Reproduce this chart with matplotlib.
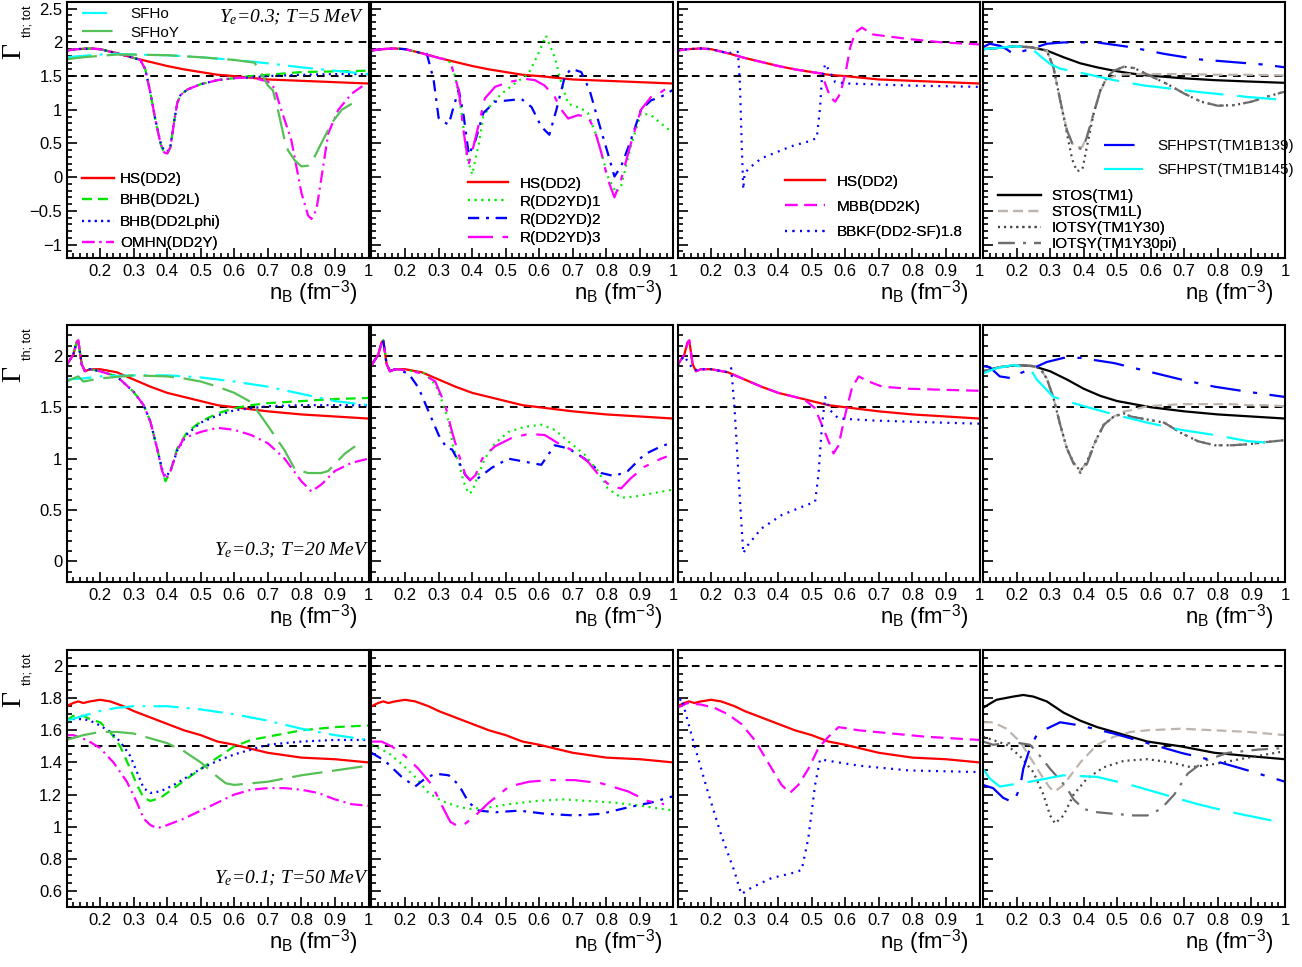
import matplotlib.pyplot as plt
from matplotlib.ticker import MultipleLocator, FuncFormatter

plt.rcParams['font.family'] = ['Liberation Sans', 'DejaVu Sans']
plt.rcParams['mathtext.fontset'] = 'custom'
plt.rcParams['mathtext.rm'] = 'Liberation Sans'
plt.rcParams['mathtext.it'] = 'Liberation Serif:italic'
plt.rcParams['lines.scale_dashes'] = False

# ---------------- Ye = 0.3, T = 5 MeV ----------------
hs5_x = [0.10, 0.13, 0.17, 0.20, 0.25, 0.30, 0.35, 0.40, 0.45, 0.50, 0.55, 0.60, 0.70, 0.80, 0.90, 1.00]
hs5_y = [1.88, 1.90, 1.91, 1.90, 1.84, 1.77, 1.71, 1.65, 1.60, 1.56, 1.52, 1.50, 1.45, 1.43, 1.41, 1.39]

bhb5_x = [0.10, 0.13, 0.17, 0.20, 0.25, 0.30, 0.32, 0.335, 0.35, 0.365, 0.38, 0.39, 0.40, 0.41, 0.42, 0.43,
          0.44, 0.46, 0.50, 0.55, 0.60, 0.65, 0.70, 0.80, 0.90, 1.00]
bhb5_y = [1.88, 1.90, 1.91, 1.90, 1.84, 1.77, 1.74, 1.60, 1.25, 0.85, 0.50, 0.37, 0.34, 0.45, 0.80, 1.10,
          1.22, 1.30, 1.38, 1.44, 1.47, 1.50, 1.52, 1.56, 1.57, 1.58]
phi5_y = [1.88, 1.90, 1.91, 1.90, 1.84, 1.77, 1.74, 1.60, 1.25, 0.85, 0.52, 0.40, 0.38, 0.47, 0.80, 1.10,
          1.22, 1.30, 1.38, 1.44, 1.47, 1.48, 1.50, 1.52, 1.53, 1.53]
omhn5_x = [0.10, 0.13, 0.17, 0.20, 0.25, 0.30, 0.32, 0.335, 0.35, 0.365, 0.38, 0.39, 0.40, 0.41, 0.42, 0.43,
           0.44, 0.46, 0.50, 0.55, 0.60, 0.65, 0.70, 0.72, 0.74, 0.77, 0.80, 0.82, 0.83, 0.845, 0.86, 0.88,
           0.91, 0.95, 0.99]
omhn5_y = [1.88, 1.90, 1.91, 1.90, 1.84, 1.77, 1.74, 1.60, 1.25, 0.85, 0.50, 0.37, 0.35, 0.45, 0.80, 1.10,
           1.22, 1.30, 1.38, 1.44, 1.47, 1.48, 1.42, 1.32, 1.00, 0.55, -0.23, -0.57, -0.62, -0.48, 0.00, 0.65,
           1.00, 1.24, 1.38]
sfho5_x = [0.10, 0.15, 0.20, 0.25, 0.30, 0.40, 0.50, 0.60, 0.70, 0.80, 0.90, 1.00]
sfho5_y = [1.78, 1.80, 1.82, 1.83, 1.82, 1.81, 1.78, 1.74, 1.69, 1.63, 1.58, 1.53]
sfhoy5_x = [0.10, 0.15, 0.20, 0.25, 0.30, 0.40, 0.50, 0.60, 0.66, 0.68, 0.70, 0.715, 0.73, 0.75, 0.76, 0.78,
            0.80, 0.82, 0.84, 0.855, 0.89, 0.92, 0.95]
sfhoy5_y = [1.75, 1.78, 1.80, 1.82, 1.82, 1.81, 1.78, 1.74, 1.70, 1.55, 1.36, 1.29, 1.00, 0.55, 0.40, 0.25,
            0.16, 0.17, 0.31, 0.46, 0.80, 1.00, 1.09]

r1_5_x = [0.10, 0.13, 0.17, 0.20, 0.25, 0.30, 0.33, 0.35, 0.37, 0.384, 0.40, 0.42, 0.433, 0.458, 0.488, 0.527,
          0.567, 0.597, 0.62, 0.646, 0.666, 0.686, 0.725, 0.745, 0.775, 0.804, 0.829, 0.844, 0.873, 0.903,
          0.933, 0.962, 1.00]
r1_5_y = [1.88, 1.90, 1.91, 1.90, 1.84, 1.77, 1.74, 1.49, 0.90, 0.31, 0.04, 0.50, 0.90, 1.09, 1.24, 1.39,
          1.53, 1.83, 2.10, 1.78, 1.39, 1.09, 1.02, 0.95, 0.55, 0.01, -0.23, -0.13, 0.46, 0.95,
          0.92, 0.80, 0.65]
r2_5_x = [0.10, 0.13, 0.17, 0.20, 0.25, 0.265, 0.285, 0.30, 0.315, 0.33, 0.345, 0.36, 0.375, 0.39, 0.41,
          0.433, 0.468, 0.508, 0.547, 0.577, 0.606, 0.63, 0.651, 0.676, 0.695, 0.725, 0.75, 0.775, 0.804,
          0.824, 0.844, 0.873, 0.903, 0.933, 0.962, 1.00]
r2_5_y = [1.88, 1.90, 1.91, 1.90, 1.84, 1.83, 1.45, 0.88, 0.82, 0.78, 1.05, 1.30, 0.90, 0.33, 0.55,
          0.95, 1.12, 1.14, 1.16, 1.04, 0.75, 0.63, 1.00, 1.49, 1.61, 1.56, 1.29, 0.85, 0.36,
          0.01, 0.16, 0.55, 1.00, 1.14, 1.19, 1.30]
r3_5_x = [0.10, 0.13, 0.17, 0.20, 0.25, 0.30, 0.32, 0.34, 0.36, 0.374, 0.389, 0.404, 0.418, 0.438, 0.468,
          0.508, 0.557, 0.587, 0.616, 0.646, 0.666, 0.686, 0.715, 0.745, 0.765, 0.785, 0.804, 0.824, 0.844,
          0.873, 0.903, 0.933, 0.962, 1.00]
r3_5_y = [1.88, 1.90, 1.91, 1.90, 1.84, 1.77, 1.75, 1.63, 1.29, 0.70, 0.19, 0.46, 0.75, 1.17, 1.34,
          1.41, 1.46, 1.44, 1.36, 1.19, 1.00, 0.87, 0.92, 0.90, 0.70, 0.36, -0.03, -0.30, -0.03,
          0.50, 1.00, 1.19, 1.26, 1.39]

mbb5_x = [0.10, 0.13, 0.17, 0.20, 0.25, 0.30, 0.35, 0.40, 0.45, 0.50, 0.53, 0.54, 0.555, 0.57, 0.585, 0.60,
          0.615, 0.63, 0.65, 0.68, 0.71, 0.79, 0.89, 1.00]
mbb5_y = [1.88, 1.90, 1.91, 1.90, 1.84, 1.77, 1.71, 1.65, 1.60, 1.56, 1.54, 1.39, 1.19, 1.12, 1.24, 1.53,
          1.93, 2.15, 2.22, 2.12, 2.10, 2.05, 2.00, 1.97]
bbkf5_x = [0.10, 0.13, 0.17, 0.20, 0.25, 0.28, 0.286, 0.291, 0.296, 0.30, 0.32, 0.35, 0.39, 0.44, 0.49, 0.515,
           0.525, 0.53, 0.54, 0.555, 0.57, 0.61, 0.79, 1.00]
bbkf5_y = [1.88, 1.90, 1.91, 1.90, 1.84, 1.86, 1.39, 0.55, -0.18, 0.06, 0.16, 0.28, 0.36, 0.46, 0.53, 0.58,
           1.04, 1.44, 1.68, 1.56, 1.41, 1.39, 1.36, 1.34]

stos5_x = [0.10, 0.15, 0.19, 0.24, 0.29, 0.34, 0.39, 0.44, 0.49, 0.54, 0.59, 0.69, 0.79, 0.89, 1.00]
stos5_y = [1.90, 1.92, 1.94, 1.93, 1.88, 1.78, 1.69, 1.63, 1.58, 1.54, 1.51, 1.47, 1.44, 1.42, 1.40]
tm1l5_x = [0.10, 0.15, 0.19, 0.24, 0.29, 0.31, 0.33, 0.35, 0.366, 0.38, 0.396, 0.41, 0.43, 0.45, 0.47, 0.50,
           0.55, 0.60, 0.70, 0.80, 0.90, 1.00]
tm1l5_y = [1.90, 1.92, 1.94, 1.93, 1.88, 1.63, 1.14, 0.70, 0.50, 0.44, 0.45, 0.62, 0.95, 1.29, 1.45, 1.52,
           1.53, 1.53, 1.53, 1.52, 1.52, 1.51]
y30_5_x = [0.10, 0.15, 0.19, 0.24, 0.29, 0.31, 0.33, 0.35, 0.366, 0.38, 0.396, 0.41, 0.43, 0.45, 0.47, 0.49,
           0.52, 0.55, 0.60, 0.65, 0.70, 0.75, 0.80, 0.85, 0.90, 0.95, 1.00]
y30_5_y = [1.90, 1.92, 1.94, 1.93, 1.88, 1.63, 1.14, 0.65, 0.26, 0.09, 0.11, 0.46, 0.95, 1.29, 1.49, 1.58,
           1.64, 1.62, 1.50, 1.38, 1.24, 1.12, 1.06, 1.07, 1.12, 1.20, 1.27]
y30pi_5_y = [1.90, 1.92, 1.94, 1.93, 1.88, 1.63, 1.14, 0.70, 0.50, 0.43, 0.42, 0.60, 0.95, 1.29, 1.49, 1.58,
             1.64, 1.62, 1.50, 1.38, 1.24, 1.12, 1.06, 1.07, 1.12, 1.20, 1.27]
b139_5_x = [0.10, 0.12, 0.15, 0.17, 0.19, 0.24, 0.29, 0.34, 0.44, 0.54, 0.64, 0.74, 0.84, 0.94, 1.00]
b139_5_y = [1.93, 1.98, 1.95, 1.90, 1.83, 1.90, 1.98, 2.00, 2.00, 1.93, 1.83, 1.75, 1.71, 1.67, 1.63]
b145_5_x = [0.10, 0.15, 0.19, 0.24, 0.27, 0.30, 0.33, 0.41, 0.49, 0.58, 0.65, 0.75, 0.89, 0.99]
b145_5_y = [1.90, 1.92, 1.94, 1.93, 1.80, 1.68, 1.61, 1.53, 1.44, 1.36, 1.32, 1.26, 1.19, 1.15]

# ---------------- Ye = 0.3, T = 20 MeV ----------------
hs20_x = [0.10, 0.12, 0.13, 0.135, 0.145, 0.155, 0.17, 0.20, 0.25, 0.30, 0.35, 0.40, 0.45, 0.50, 0.55, 0.60,
          0.70, 0.80, 0.90, 1.00]
hs20_y = [1.91, 2.01, 2.13, 2.15, 1.92, 1.85, 1.87, 1.87, 1.84, 1.77, 1.70, 1.64, 1.60, 1.56, 1.52, 1.50,
          1.46, 1.43, 1.41, 1.39]

bhb20_x = [0.10, 0.12, 0.13, 0.135, 0.145, 0.155, 0.17, 0.20, 0.25, 0.30, 0.33, 0.35, 0.37, 0.385, 0.395,
           0.41, 0.43, 0.46, 0.50, 0.55, 0.60, 0.65, 0.70, 0.80, 0.90, 1.00]
bhb20_y = [1.91, 2.01, 2.13, 2.15, 1.92, 1.85, 1.87, 1.85, 1.80, 1.65, 1.52, 1.36, 1.10, 0.88, 0.78,
           0.88, 1.10, 1.26, 1.36, 1.44, 1.49, 1.52, 1.54, 1.56, 1.58, 1.59]
phi20_y = [1.91, 2.01, 2.13, 2.15, 1.92, 1.85, 1.87, 1.85, 1.80, 1.65, 1.52, 1.36, 1.10, 0.90, 0.82,
           0.88, 1.08, 1.24, 1.35, 1.42, 1.47, 1.49, 1.51, 1.52, 1.52, 1.52]
omhn20_x = [0.10, 0.12, 0.13, 0.135, 0.145, 0.155, 0.17, 0.20, 0.25, 0.30, 0.33, 0.35, 0.37, 0.385, 0.395,
            0.41, 0.43, 0.45, 0.50, 0.55, 0.60, 0.65, 0.70, 0.75, 0.80, 0.83, 0.86, 0.90, 0.95, 1.00]
omhn20_y = [1.91, 2.01, 2.13, 2.15, 1.92, 1.85, 1.87, 1.85, 1.80, 1.65, 1.52, 1.36, 1.10, 0.88, 0.80,
            0.88, 1.08, 1.20, 1.26, 1.30, 1.28, 1.23, 1.15, 1.00, 0.78, 0.68, 0.75, 0.88, 0.96, 1.00]
sfho20_x = [0.10, 0.15, 0.20, 0.30, 0.40, 0.50, 0.60, 0.70, 0.80, 0.90, 1.00]
sfho20_y = [1.77, 1.78, 1.80, 1.81, 1.81, 1.79, 1.75, 1.70, 1.63, 1.56, 1.52]
sfhoy20_x = [0.10, 0.12, 0.135, 0.15, 0.20, 0.30, 0.40, 0.45, 0.50, 0.55, 0.60, 0.65, 0.70, 0.75, 0.78,
             0.82, 0.86, 0.88, 0.90, 0.93, 0.96]
sfhoy20_y = [1.75, 1.78, 1.80, 1.75, 1.78, 1.81, 1.80, 1.78, 1.75, 1.70, 1.64, 1.55, 1.32, 1.08, 0.90,
             0.86, 0.86, 0.88, 0.95, 1.05, 1.12]

r1_20_x = [0.10, 0.12, 0.13, 0.135, 0.145, 0.155, 0.17, 0.20, 0.23, 0.26, 0.29, 0.31, 0.33, 0.344, 0.36,
           0.374, 0.389, 0.40, 0.418, 0.438, 0.468, 0.508, 0.557, 0.606, 0.646, 0.686, 0.735, 0.775, 0.804,
           0.844, 0.883, 0.933, 1.00]
r1_20_y = [1.91, 2.01, 2.13, 2.15, 1.92, 1.85, 1.87, 1.86, 1.85, 1.83, 1.72, 1.56, 1.36, 1.10, 0.97,
           0.78, 0.66, 0.68, 0.84, 1.00, 1.15, 1.26, 1.31, 1.33, 1.28, 1.17, 1.04, 0.88, 0.71,
           0.62, 0.63, 0.66, 0.70]
r2_20_x = [0.10, 0.12, 0.13, 0.135, 0.145, 0.155, 0.17, 0.21, 0.24, 0.27, 0.30, 0.325, 0.34, 0.36, 0.38,
           0.394, 0.418, 0.458, 0.508, 0.557, 0.606, 0.646, 0.686, 0.735, 0.785, 0.824, 0.864, 0.913, 0.963,
           1.00]
r2_20_y = [1.91, 2.01, 2.13, 2.15, 1.92, 1.85, 1.87, 1.83, 1.69, 1.46, 1.23, 1.10, 1.09, 0.97, 0.84,
           0.79, 0.81, 0.91, 1.00, 0.97, 0.94, 1.13, 1.10, 1.00, 0.86, 0.83, 0.88, 1.04, 1.12,
           1.16]
r3_20_x = [0.10, 0.12, 0.13, 0.135, 0.145, 0.155, 0.17, 0.20, 0.25, 0.29, 0.32, 0.34, 0.36, 0.38, 0.394,
           0.41, 0.43, 0.468, 0.517, 0.567, 0.616, 0.656, 0.705, 0.745, 0.785, 0.814, 0.844, 0.873, 0.913,
           0.963, 0.98]
r3_20_y = [1.91, 2.01, 2.13, 2.15, 1.92, 1.85, 1.87, 1.86, 1.83, 1.75, 1.52, 1.26, 1.04, 0.84, 0.79,
           0.84, 1.00, 1.12, 1.20, 1.24, 1.23, 1.15, 1.07, 0.97, 0.81, 0.73, 0.71, 0.81, 0.92,
           1.00, 1.02]

mbb20_x = [0.10, 0.12, 0.13, 0.135, 0.145, 0.155, 0.17, 0.20, 0.25, 0.30, 0.35, 0.40, 0.45, 0.48, 0.51,
           0.53, 0.55, 0.565, 0.58, 0.60, 0.62, 0.64, 0.67, 0.71, 0.79, 0.89, 1.00]
mbb20_y = [1.91, 2.01, 2.13, 2.15, 1.92, 1.85, 1.87, 1.87, 1.84, 1.77, 1.70, 1.64, 1.60, 1.57, 1.49,
           1.33, 1.17, 1.05, 1.13, 1.43, 1.69, 1.80, 1.75, 1.70, 1.68, 1.67, 1.66]
bbkf20_x = [0.10, 0.12, 0.135, 0.15, 0.17, 0.20, 0.25, 0.26, 0.27, 0.28, 0.29, 0.296, 0.31, 0.35, 0.41,
            0.47, 0.51, 0.52, 0.53, 0.54, 0.555, 0.58, 0.69, 0.89, 1.00]
bbkf20_y = [1.91, 2.00, 1.92, 1.86, 1.87, 1.87, 1.84, 1.88, 1.49, 0.94, 0.39, 0.08, 0.16, 0.32, 0.45,
            0.53, 0.58, 0.84, 1.30, 1.60, 1.47, 1.39, 1.37, 1.35, 1.34]

stos20_x = [0.10, 0.15, 0.20, 0.25, 0.30, 0.35, 0.40, 0.45, 0.50, 0.60, 0.70, 0.80, 0.90, 1.00]
stos20_y = [1.85, 1.89, 1.91, 1.90, 1.85, 1.77, 1.68, 1.61, 1.56, 1.50, 1.46, 1.43, 1.41, 1.39]
gray20_x = [0.10, 0.15, 0.20, 0.25, 0.27, 0.29, 0.31, 0.33, 0.35, 0.37, 0.39, 0.41, 0.435, 0.46, 0.49, 0.52,
            0.54, 0.59, 0.64, 0.69, 0.74, 0.79, 0.84, 0.89, 0.94, 1.00]
tm1l20_y = [1.85, 1.89, 1.91, 1.90, 1.88, 1.78, 1.59, 1.33, 1.10, 0.96, 0.88, 0.97, 1.17, 1.33, 1.41, 1.46,
            1.47, 1.51, 1.52, 1.53, 1.53, 1.53, 1.53, 1.52, 1.52, 1.51]
y30_20_y = [1.85, 1.89, 1.91, 1.90, 1.88, 1.78, 1.59, 1.33, 1.10, 0.96, 0.88, 0.97, 1.17, 1.33, 1.41, 1.44,
            1.41, 1.38, 1.35, 1.25, 1.17, 1.13, 1.13, 1.14, 1.16, 1.18]
y30pi_20_y = [1.85, 1.89, 1.91, 1.90, 1.88, 1.78, 1.59, 1.33, 1.10, 0.95, 0.86, 0.95, 1.16, 1.33, 1.41, 1.44,
              1.41, 1.38, 1.35, 1.25, 1.17, 1.13, 1.13, 1.14, 1.16, 1.18]
b139_20_x = [0.10, 0.12, 0.15, 0.19, 0.21, 0.25, 0.29, 0.34, 0.39, 0.49, 0.59, 0.69, 0.79, 0.89, 1.00]
b139_20_y = [1.90, 1.89, 1.80, 1.78, 1.83, 1.88, 1.94, 1.98, 1.98, 1.93, 1.85, 1.77, 1.70, 1.65, 1.60]
b145_20_x = [0.10, 0.14, 0.19, 0.24, 0.26, 0.31, 0.39, 0.49, 0.59, 0.69, 0.79, 0.89, 0.97]
b145_20_y = [1.83, 1.88, 1.91, 1.88, 1.77, 1.60, 1.52, 1.43, 1.35, 1.28, 1.23, 1.17, 1.15]

# ---------------- Ye = 0.1, T = 50 MeV ----------------
hs50_x = [0.10, 0.12, 0.135, 0.15, 0.17, 0.20, 0.23, 0.27, 0.30, 0.35, 0.40, 0.45, 0.50, 0.55, 0.60, 0.70,
          0.80, 0.90, 1.00]
hs50_y = [1.75, 1.77, 1.78, 1.77, 1.78, 1.79, 1.78, 1.75, 1.72, 1.68, 1.64, 1.60, 1.57, 1.53, 1.51, 1.46,
          1.43, 1.42, 1.40]

bhb50_x = [0.10, 0.12, 0.15, 0.17, 0.20, 0.23, 0.26, 0.29, 0.31, 0.33, 0.35, 0.38, 0.42, 0.46, 0.50, 0.55,
           0.60, 0.65, 0.70, 0.80, 0.90, 1.00]
bhb50_y = [1.66, 1.69, 1.69, 1.67, 1.65, 1.59, 1.50, 1.36, 1.26, 1.18, 1.16, 1.18, 1.24, 1.30, 1.36, 1.43,
           1.50, 1.54, 1.56, 1.60, 1.62, 1.63]
phi50_y = [1.66, 1.67, 1.67, 1.66, 1.63, 1.59, 1.53, 1.44, 1.34, 1.24, 1.21, 1.22, 1.26, 1.31, 1.36, 1.41,
           1.45, 1.48, 1.51, 1.53, 1.54, 1.54]
omhn50_x = [0.10, 0.12, 0.16, 0.20, 0.24, 0.28, 0.31, 0.33, 0.35, 0.37, 0.40, 0.45, 0.50, 0.55, 0.60, 0.65,
            0.70, 0.75, 0.80, 0.85, 0.90, 0.95, 1.00]
omhn50_y = [1.57, 1.57, 1.54, 1.49, 1.40, 1.28, 1.15, 1.05, 1.01, 0.99, 1.01, 1.05, 1.10, 1.15, 1.20, 1.23,
            1.24, 1.24, 1.23, 1.21, 1.17, 1.14, 1.13]
sfho50_x = [0.10, 0.15, 0.20, 0.25, 0.30, 0.40, 0.50, 0.60, 0.70, 0.80, 0.90, 1.00]
sfho50_y = [1.66, 1.69, 1.72, 1.74, 1.75, 1.75, 1.73, 1.70, 1.66, 1.61, 1.57, 1.54]
sfhoy50_x = [0.10, 0.15, 0.20, 0.25, 0.30, 0.35, 0.40, 0.45, 0.50, 0.55, 0.575, 0.60, 0.70, 0.80, 0.90, 1.00]
sfhoy50_y = [1.54, 1.57, 1.59, 1.59, 1.58, 1.55, 1.52, 1.47, 1.40, 1.31, 1.27, 1.26, 1.28, 1.32, 1.35, 1.38]

r1_50_x = [0.10, 0.15, 0.19, 0.23, 0.27, 0.31, 0.35, 0.39, 0.45, 0.51, 0.59, 0.67, 0.745, 0.824, 0.903, 1.00]
r1_50_y = [1.51, 1.46, 1.39, 1.31, 1.21, 1.16, 1.13, 1.11, 1.12, 1.14, 1.16, 1.17, 1.16, 1.15, 1.13, 1.10]
r2_50_x = [0.10, 0.14, 0.19, 0.23, 0.26, 0.29, 0.33, 0.36, 0.39, 0.42, 0.47, 0.54, 0.62, 0.705, 0.785, 0.864,
           0.933, 1.00]
r2_50_y = [1.46, 1.41, 1.31, 1.25, 1.30, 1.33, 1.32, 1.26, 1.15, 1.10, 1.09, 1.10, 1.08, 1.07, 1.08, 1.12,
           1.15, 1.19]
r3_50_x = [0.10, 0.13, 0.16, 0.20, 0.24, 0.28, 0.31, 0.335, 0.36, 0.38, 0.41, 0.45, 0.51, 0.57, 0.63, 0.705,
           0.785, 0.864, 0.923, 0.972]
r3_50_y = [1.53, 1.53, 1.50, 1.44, 1.36, 1.26, 1.13, 1.03, 1.00, 1.02, 1.07, 1.15, 1.25, 1.28, 1.29, 1.29,
           1.27, 1.22, 1.16, 1.14]

mbb50_x = [0.10, 0.13, 0.17, 0.21, 0.25, 0.29, 0.33, 0.37, 0.41, 0.435, 0.46, 0.49, 0.52, 0.55, 0.58, 0.64,
           0.74, 0.84, 1.00]
mbb50_y = [1.74, 1.77, 1.76, 1.74, 1.70, 1.64, 1.54, 1.40, 1.26, 1.21, 1.26, 1.36, 1.49, 1.56, 1.62, 1.60,
           1.58, 1.56, 1.54]
bbkf50_x = [0.10, 0.11, 0.12, 0.15, 0.19, 0.23, 0.27, 0.29, 0.32, 0.38, 0.44, 0.47, 0.49, 0.51, 0.525, 0.55,
            0.64, 0.79, 1.00]
bbkf50_y = [1.74, 1.80, 1.74, 1.51, 1.22, 0.95, 0.72, 0.58, 0.62, 0.68, 0.71, 0.73, 0.93, 1.26, 1.42, 1.41,
            1.38, 1.35, 1.34]

stos50_x = [0.10, 0.14, 0.19, 0.22, 0.25, 0.29, 0.34, 0.39, 0.44, 0.49, 0.54, 0.59, 0.69, 0.79, 0.89, 1.00]
stos50_y = [1.74, 1.79, 1.81, 1.82, 1.81, 1.78, 1.71, 1.66, 1.62, 1.59, 1.56, 1.53, 1.50, 1.46, 1.44, 1.42]
tm1l50_x = [0.10, 0.13, 0.17, 0.21, 0.25, 0.28, 0.30, 0.315, 0.34, 0.39, 0.44, 0.49, 0.54, 0.59, 0.69, 0.79,
            0.89, 1.00]
tm1l50_y = [1.65, 1.65, 1.61, 1.53, 1.40, 1.30, 1.24, 1.22, 1.26, 1.40, 1.51, 1.56, 1.59, 1.60, 1.61, 1.60,
            1.59, 1.57]
y30_50_x = [0.10, 0.13, 0.17, 0.21, 0.25, 0.28, 0.30, 0.315, 0.34, 0.37, 0.41, 0.46, 0.52, 0.59, 0.66, 0.72,
            0.79, 0.89, 1.00]
y30_50_y = [1.56, 1.54, 1.51, 1.44, 1.34, 1.20, 1.07, 1.02, 1.07, 1.20, 1.30, 1.37, 1.41, 1.42, 1.40, 1.37,
            1.39, 1.43, 1.47]
y30pi_50_x = [0.10, 0.13, 0.17, 0.21, 0.24, 0.27, 0.30, 0.33, 0.35, 0.37, 0.40, 0.44, 0.49, 0.55, 0.59, 0.63,
              0.67, 0.71, 0.76, 0.83, 0.92, 1.00]
y30pi_50_y = [1.53, 1.51, 1.52, 1.52, 1.51, 1.44, 1.36, 1.29, 1.24, 1.17, 1.11, 1.09, 1.08, 1.07, 1.07, 1.11,
              1.20, 1.33, 1.41, 1.46, 1.48, 1.49]
b139_50_x = [0.10, 0.13, 0.16, 0.19, 0.21, 0.22, 0.24, 0.26, 0.29, 0.33, 0.39, 0.49, 0.59, 0.69, 0.79, 0.89,
             1.00]
b139_50_y = [1.26, 1.24, 1.18, 1.15, 1.24, 1.36, 1.49, 1.57, 1.61, 1.65, 1.63, 1.58, 1.52, 1.46, 1.41, 1.35,
             1.28]
b145_50_x = [0.10, 0.12, 0.15, 0.18, 0.24, 0.34, 0.44, 0.54, 0.64, 0.74, 0.84, 0.98]
b145_50_y = [1.36, 1.30, 1.25, 1.26, 1.28, 1.32, 1.31, 1.26, 1.20, 1.14, 1.09, 1.03]

# colour and dash pattern (points) for every model
STYLE = {
    'HS(DD2)': ('#ff0000', None),
    'BHB(DD2L)': ('#00e600', (7, 4.5)),
    'BHB(DD2Lphi)': ('#0000ff', (1.4, 3.2)),
    'OMHN(DD2Y)': ('#ff00ff', (9, 3.5, 1.5, 3.5)),
    'SFHo': ('#00ffff', (18, 6, 2, 6)),
    'SFHoY': ('#55c055', (22, 7)),
    'R(DD2YD)1': ('#00ee00', (1.4, 3.4)),
    'R(DD2YD)2': ('#0000ff', (8, 5, 2, 5)),
    'R(DD2YD)3': ('#ff00ff', (18, 7, 4, 7)),
    'MBB(DD2K)': ('#ff00ff', (9, 5)),
    'BBKF(DD2-SF)1.8': ('#0000ff', (1.4, 4)),
    'STOS(TM1)': ('#000000', None),
    'STOS(TM1L)': ('#bdb5ad', (7, 4)),
    'IOTSY(TM1Y30)': ('#444444', (1.4, 3)),
    'IOTSY(TM1Y30pi)': ('#6e6e6e', (12, 6, 2, 6)),
    'SFHPST(TM1B139)': ('#0000ff', (22, 9, 3, 9)),
    'SFHPST(TM1B145)': ('#00ffff', (28, 10)),
}

ROWS = [
    dict(ylim=(-1.2, 2.6), major=0.5, minor=0.1,
         note=r'$Y_e$=0.3; $T$=5 MeV', note_xy=(0.505, 0.94),
         cols=[[('HS(DD2)', hs5_x, hs5_y), ('BHB(DD2L)', bhb5_x, bhb5_y),
                ('BHB(DD2Lphi)', bhb5_x, phi5_y), ('OMHN(DD2Y)', omhn5_x, omhn5_y),
                ('SFHo', sfho5_x, sfho5_y), ('SFHoY', sfhoy5_x, sfhoy5_y)],
               [('HS(DD2)', hs5_x, hs5_y), ('R(DD2YD)1', r1_5_x, r1_5_y),
                ('R(DD2YD)2', r2_5_x, r2_5_y), ('R(DD2YD)3', r3_5_x, r3_5_y)],
               [('HS(DD2)', hs5_x, hs5_y), ('MBB(DD2K)', mbb5_x, mbb5_y),
                ('BBKF(DD2-SF)1.8', bbkf5_x, bbkf5_y)],
               [('STOS(TM1)', stos5_x, stos5_y), ('STOS(TM1L)', tm1l5_x, tm1l5_y),
                ('IOTSY(TM1Y30)', y30_5_x, y30_5_y), ('IOTSY(TM1Y30pi)', y30_5_x, y30pi_5_y),
                ('SFHPST(TM1B139)', b139_5_x, b139_5_y), ('SFHPST(TM1B145)', b145_5_x, b145_5_y)]]),
    dict(ylim=(-0.2, 2.3), major=0.5, minor=0.1,
         note=r'$Y_e$=0.3; $T$=20 MeV', note_xy=(0.49, 0.125),
         cols=[[('HS(DD2)', hs20_x, hs20_y), ('BHB(DD2L)', bhb20_x, bhb20_y),
                ('BHB(DD2Lphi)', bhb20_x, phi20_y), ('OMHN(DD2Y)', omhn20_x, omhn20_y),
                ('SFHo', sfho20_x, sfho20_y), ('SFHoY', sfhoy20_x, sfhoy20_y)],
               [('HS(DD2)', hs20_x, hs20_y), ('R(DD2YD)1', r1_20_x, r1_20_y),
                ('R(DD2YD)2', r2_20_x, r2_20_y), ('R(DD2YD)3', r3_20_x, r3_20_y)],
               [('HS(DD2)', hs20_x, hs20_y), ('MBB(DD2K)', mbb20_x, mbb20_y),
                ('BBKF(DD2-SF)1.8', bbkf20_x, bbkf20_y)],
               [('STOS(TM1)', stos20_x, stos20_y), ('STOS(TM1L)', gray20_x, tm1l20_y),
                ('IOTSY(TM1Y30)', gray20_x, y30_20_y), ('IOTSY(TM1Y30pi)', gray20_x, y30pi_20_y),
                ('SFHPST(TM1B139)', b139_20_x, b139_20_y), ('SFHPST(TM1B145)', b145_20_x, b145_20_y)]]),
    dict(ylim=(0.5, 2.1), major=0.2, minor=0.05,
         note=r'$Y_e$=0.1; $T$=50 MeV', note_xy=(0.49, 0.113),
         cols=[[('HS(DD2)', hs50_x, hs50_y), ('BHB(DD2L)', bhb50_x, bhb50_y),
                ('BHB(DD2Lphi)', bhb50_x, phi50_y), ('OMHN(DD2Y)', omhn50_x, omhn50_y),
                ('SFHo', sfho50_x, sfho50_y), ('SFHoY', sfhoy50_x, sfhoy50_y)],
               [('HS(DD2)', hs50_x, hs50_y), ('R(DD2YD)1', r1_50_x, r1_50_y),
                ('R(DD2YD)2', r2_50_x, r2_50_y), ('R(DD2YD)3', r3_50_x, r3_50_y)],
               [('HS(DD2)', hs50_x, hs50_y), ('MBB(DD2K)', mbb50_x, mbb50_y),
                ('BBKF(DD2-SF)1.8', bbkf50_x, bbkf50_y)],
               [('STOS(TM1)', stos50_x, stos50_y), ('STOS(TM1L)', tm1l50_x, tm1l50_y),
                ('IOTSY(TM1Y30)', y30_50_x, y30_50_y), ('IOTSY(TM1Y30pi)', y30pi_50_x, y30pi_50_y),
                ('SFHPST(TM1B139)', b139_50_x, b139_50_y), ('SFHPST(TM1B145)', b145_50_x, b145_50_y)]]),
]

# legends of the first row: (labels, anchor in axes fraction, labelspacing, handlelength, handletextpad)
LEGENDS = [
    [(['SFHo', 'SFHoY'], (0.051, 0.979), 0.27, 2.1, 1.1),
     (['HS(DD2)', 'BHB(DD2L)', 'BHB(DD2Lphi)', 'OMHN(DD2Y)'], (0.051, 0.336), 0.49, 2.1, 0.4)],
    [(['HS(DD2)', 'R(DD2YD)1', 'R(DD2YD)2', 'R(DD2YD)3'], (0.32, 0.318), 0.27, 2.6, 0.8)],
    [(['HS(DD2)', 'MBB(DD2K)', 'BBKF(DD2-SF)1.8'], (0.356, 0.326), 0.73, 2.6, 0.8)],
    [(['SFHPST(TM1B139)', 'SFHPST(TM1B145)'], (0.40, 0.464), 0.67, 2.6, 0.9),
     (['STOS(TM1)', 'STOS(TM1L)', 'IOTSY(TM1Y30)', 'IOTSY(TM1Y30pi)'], (0.05, 0.27), 0.14, 2.8, 0.7)],
]

W, H = 1302, 967
LEFTS = [66.5, 371.5, 677.5, 983]
PANEL_W = 302
TOPS = [2, 325, 650]
BOTTOMS = [258, 582, 907]

fig = plt.figure(figsize=(W / 100, H / 100), dpi=100)


def fmt_num(v, pos):
    return ('%g' % round(v, 3)).replace('-', '\u2212')


def fmt_x(v, pos):
    if v < 0.15:
        return ''
    return '%g' % round(v, 3)


for r, row in enumerate(ROWS):
    for c, curves in enumerate(row['cols']):
        ax = fig.add_axes([LEFTS[c] / W, 1 - BOTTOMS[r] / H, PANEL_W / W, (BOTTOMS[r] - TOPS[r]) / H])
        ax.set_xlim(0.1, 1.0)
        ax.set_ylim(*row['ylim'])
        for lvl in (1.5, 2.0):
            ax.axhline(lvl, color='black', lw=1.4, ls=(0, (5.5, 4.5)), zorder=1)
        handles = {}
        for name, xs, ys in curves:
            color, dashes = STYLE[name]
            if dashes is None:
                ln, = ax.plot(xs, ys, color=color, lw=1.6, ls='-')
            else:
                ln, = ax.plot(xs, ys, color=color, lw=1.6, ls=(0, dashes))
            handles[name] = ln

        ax.xaxis.set_major_locator(MultipleLocator(0.1))
        ax.xaxis.set_minor_locator(MultipleLocator(0.02))
        ax.yaxis.set_major_locator(MultipleLocator(row['major']))
        ax.yaxis.set_minor_locator(MultipleLocator(row['minor']))
        ax.xaxis.set_major_formatter(FuncFormatter(fmt_x))
        ax.yaxis.set_major_formatter(FuncFormatter(fmt_num))
        ax.tick_params(which='both', direction='in', top=False, right=False, width=1.2,
                       labelsize=12)
        ax.tick_params(which='major', length=7, pad=4)
        ax.tick_params(which='minor', length=3.5)
        ax.tick_params(axis='y', which='major', pad=3)
        if c > 0:
            ax.tick_params(axis='y', labelleft=False)
        for sp in ax.spines.values():
            sp.set_linewidth(1.5)

        ax.text(0.962, -0.137, r'n$_{\rm B}$ (fm$^{-3}$)', transform=ax.transAxes,
                ha='right', va='center', fontsize=16)

        if c == 0:
            nx, ny = row['note_xy']
            ax.text(nx, ny, row['note'], transform=ax.transAxes, ha='left', va='center',
                    fontsize=14, family='Liberation Serif', style='italic')

        if r == 0:
            for labels, anchor, spacing, hlen, tpad in LEGENDS[c]:
                leg = ax.legend([handles[k] for k in labels], labels, loc='upper left',
                                bbox_to_anchor=anchor, frameon=False, fontsize=11,
                                labelspacing=spacing, handlelength=hlen, handletextpad=tpad,
                                borderpad=0, borderaxespad=0)
                ax.add_artist(leg)

    # axis title on the left of each row
    top = TOPS[r]
    fig.text(14 / W, 1 - (top + 49) / H, '\u0393', rotation=90, ha='center', va='center',
             fontsize=20, family='Liberation Serif')
    fig.text(27 / W, 1 - (top + 19) / H, 'th; tot', rotation=90, ha='center', va='center',
             fontsize=9)

fig.savefig('out.png', dpi=100)
